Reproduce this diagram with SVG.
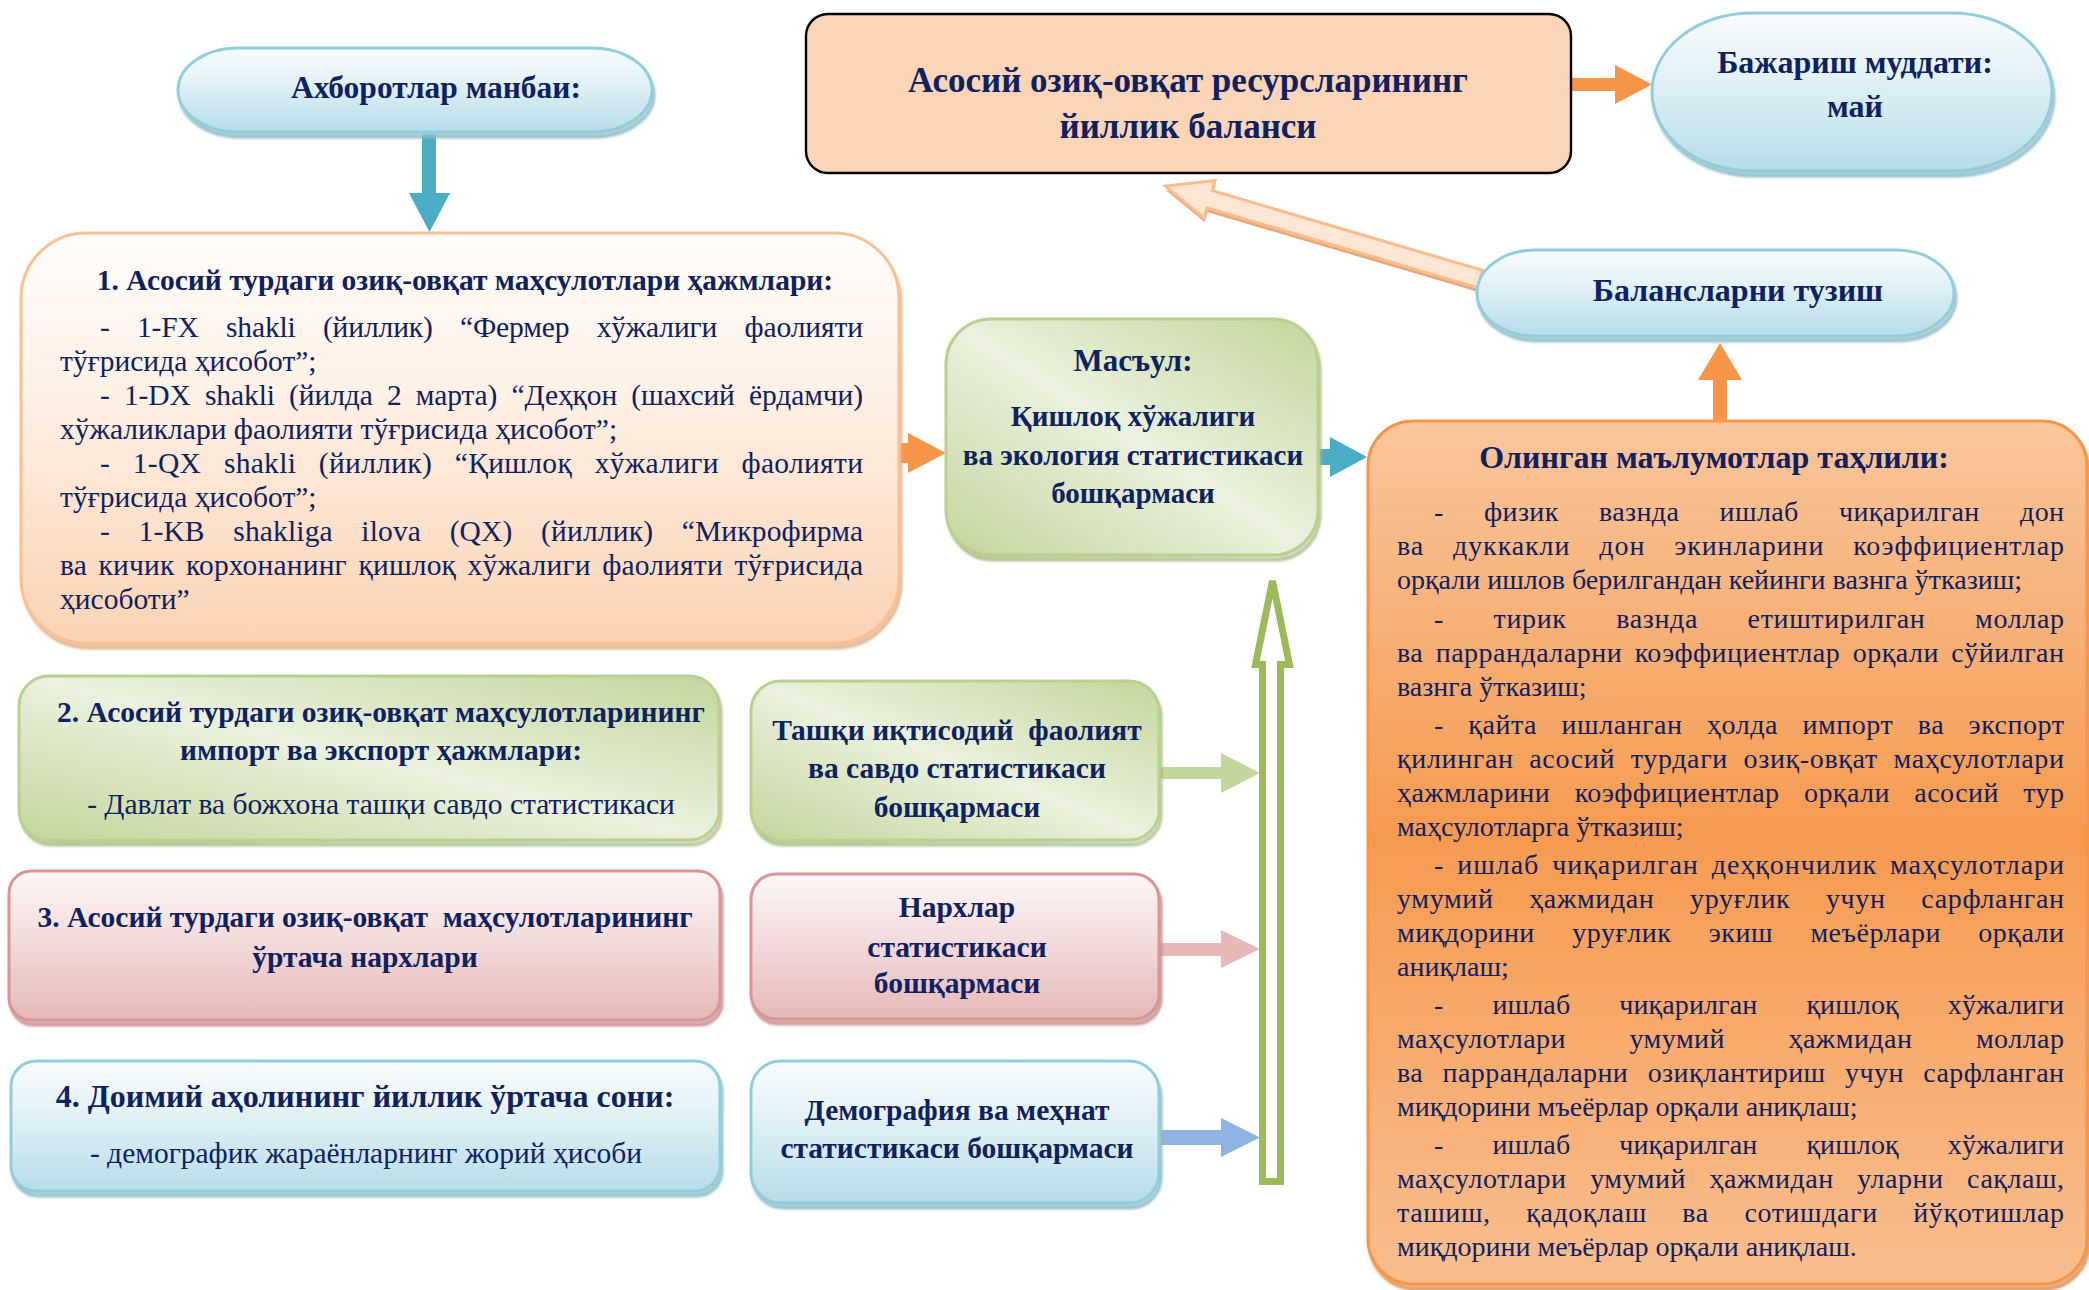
<svg xmlns="http://www.w3.org/2000/svg" width="2089" height="1290" viewBox="0 0 2089 1290">
<defs>
<style>
.t{font-family:"Liberation Serif","Times New Roman",serif;fill:#0f2160}
.b{font-weight:bold}
.c{text-anchor:middle}
.f29{font-size:29.5px}
.f28{font-size:28px}
.f32{font-size:32px}
</style>
<linearGradient id="gBlue" x1="0" y1="0" x2="0" y2="1"><stop offset="0" stop-color="#f8fcfd"/><stop offset="0.35" stop-color="#e6f3f7"/><stop offset="1" stop-color="#b6dde8"/></linearGradient>
<linearGradient id="gPeach" x1="0" y1="0" x2="0" y2="1"><stop offset="0" stop-color="#fffdfb"/><stop offset="0.4" stop-color="#fef0e5"/><stop offset="1" stop-color="#fbd3b3"/></linearGradient>
<linearGradient id="gGreen" x1="0" y1="1" x2="1" y2="0"><stop offset="0" stop-color="#c3d69b"/><stop offset="0.5" stop-color="#ebf1de"/><stop offset="1" stop-color="#c3d69b"/></linearGradient>
<linearGradient id="gPink" x1="0" y1="0" x2="0" y2="1"><stop offset="0" stop-color="#fdf7f7"/><stop offset="0.45" stop-color="#f3dcdc"/><stop offset="1" stop-color="#e6b9b8"/></linearGradient>
<linearGradient id="gOrange" x1="0" y1="0" x2="0" y2="1"><stop offset="0" stop-color="#f9c69d"/><stop offset="0.48" stop-color="#f69a4f"/><stop offset="1" stop-color="#f9be8f"/></linearGradient>
<filter id="sh" x="-5%" y="-5%" width="110%" height="115%">
<feOffset in="SourceGraphic" dx="2" dy="5" result="o"/>
<feColorMatrix in="o" type="matrix" values="0.78 0 0 0 0 0 0.78 0 0 0 0 0 0.78 0 0 0 0 0 0.85 0" result="d"/>
<feGaussianBlur in="d" stdDeviation="1.2" result="bl"/>
<feMerge><feMergeNode in="bl"/><feMergeNode in="SourceGraphic"/></feMerge>
</filter>
</defs>
<rect width="2089" height="1290" fill="#ffffff"/>

<g id="connectors">
<polygon points="422,134 436,134 436,193 450,193 429.5,232 409,193 422,193" fill="#4bacc6"/>
<polygon points="899,443 908,443 908,433 946,453 908,473 908,463 899,463" fill="#f79646"/>
<polygon points="1316,449 1330,449 1330,437 1367,457 1330,477 1330,465 1316,465" fill="#4bacc6"/>
<polygon points="1713,424 1713,380 1698,380 1720,343 1742,380 1727,380 1727,424" fill="#f79646"/>
<polygon points="1569,78 1615,78 1615,65 1652,84.5 1615,104 1615,91 1569,91" fill="#f79646"/>
<polygon points="1158,767 1221,767 1221,753 1260,773 1221,793 1221,779 1158,779" fill="#c3d69b"/>
<polygon points="1158,943 1221,943 1221,930 1260,949 1221,968 1221,956 1158,956" fill="#e6b9b8"/>
<polygon points="1158,1130 1221,1130 1221,1118 1260,1137.5 1221,1157 1221,1145 1158,1145" fill="#8db3e2"/>
<polygon points="1272.5,581 1289.5,664.5 1280.5,664.5 1280.5,1181.5 1262.5,1181.5 1262.5,664.5 1255.5,664.5" fill="#ffffff" stroke="#9bbb59" stroke-width="7" stroke-linejoin="miter"/>
<g transform="translate(1480,279) rotate(196.45)">
<polygon points="0,-9 282,-9 282,-19.5 328,0 282,19.5 282,9 0,9" fill="#e5aa7c" transform="translate(-2,-4)"/>
<polygon points="0,-9 282,-9 282,-19.5 328,0 282,19.5 282,9 0,9" fill="#fde6d4" stroke="#f9bd8b" stroke-width="3"/>
</g>
</g>

<g id="n-source">
<rect x="178" y="48" width="474" height="84" rx="60" ry="42" fill="url(#gBlue)" stroke="#92cddc" stroke-width="3" filter="url(#sh)"/>
<text class="t b c" x="436" y="98" font-size="31.5">Ахборотлар манбаи:</text>
</g>

<g id="n-balance">
<rect x="806" y="14" width="765" height="159" rx="22" fill="#fbd5b5" stroke="#000000" stroke-width="2.4"/>
<text class="t b c" x="1188" y="92" font-size="35">Асосий озиқ-овқат ресурсларининг</text>
<text class="t b c" x="1188" y="138" font-size="35">йиллик баланси</text>
</g>

<g id="n-deadline">
<rect x="1652" y="13" width="400" height="158" rx="100" ry="79" fill="url(#gBlue)" stroke="#92cddc" stroke-width="3" filter="url(#sh)"/>
<text class="t b c f32" x="1855" y="73">Бажариш муддати:</text>
<text class="t b c f32" x="1855" y="117">май</text>
</g>

<g id="n-compose">
<rect x="1477" y="250" width="477" height="86" rx="58" ry="43" fill="url(#gBlue)" stroke="#92cddc" stroke-width="3" filter="url(#sh)"/>
<text class="t b c f32" x="1738" y="301">Балансларни тузиш</text>
</g>

<g id="n-box1">
<rect x="21" y="233" width="878" height="410" rx="65" fill="url(#gPeach)" stroke="#fac090" stroke-width="3" filter="url(#sh)"/>
<text class="t b c f29" x="465" y="290">1. Асосий турдаги озиқ-овқат маҳсулотлари ҳажмлари:</text>
<g class="t f29">
<text x="100" y="337" word-spacing="20" textLength="763" lengthAdjust="spacing">- 1-FX shakli (йиллик) “Фермер хўжалиги фаолияти</text>
<text x="60" y="371">тўғрисида ҳисобот”;</text>
<text x="100" y="405" word-spacing="7" textLength="763" lengthAdjust="spacing">- 1-DX shakli (йилда 2 марта) “Деҳқон (шахсий ёрдамчи)</text>
<text x="60" y="439">хўжаликлари фаолияти тўғрисида ҳисобот”;</text>
<text x="100" y="473" word-spacing="15" textLength="763" lengthAdjust="spacing">- 1-QX shakli (йиллик) “Қишлоқ хўжалиги фаолияти</text>
<text x="60" y="507">тўғрисида ҳисобот”;</text>
<text x="100" y="541" word-spacing="21" textLength="763" lengthAdjust="spacing">- 1-KB shakliga ilova (QX) (йиллик) “Микрофирма</text>
<text x="60" y="575" word-spacing="4" textLength="803" lengthAdjust="spacing">ва кичик корхонанинг қишлоқ хўжалиги фаолияти тўғрисида</text>
<text x="60" y="609">ҳисоботи”</text>
</g>
</g>

<g id="n-resp">
<rect x="946" y="319" width="372" height="236" rx="45" fill="url(#gGreen)" stroke="#b9d18e" stroke-width="3" filter="url(#sh)"/>
<text class="t b c" x="1133" y="371" font-size="31">Масъул:</text>
<text class="t b c" x="1133" y="426" font-size="29">Қишлоқ хўжалиги</text>
<text class="t b c" x="1133" y="465" font-size="29">ва экология статистикаси</text>
<text class="t b c" x="1133" y="503" font-size="29">бошқармаси</text>
</g>

<g id="n-analysis">
<rect x="1368" y="421" width="719" height="863" rx="45" fill="url(#gOrange)" stroke="#f79646" stroke-width="3" filter="url(#sh)"/>
<text class="t b c" x="1714" y="468" font-size="32">Олинган маълумотлар таҳлили:</text>
<g class="t f28">
<text x="1434" y="521" word-spacing="33" textLength="630" lengthAdjust="spacing">- физик вазнда ишлаб чиқарилган дон</text>
<text x="1397" y="555" word-spacing="21" textLength="667" lengthAdjust="spacing">ва дуккакли дон экинларини коэффициентлар</text>
<text x="1397" y="589">орқали ишлов берилгандан кейинги вазнга ўтказиш;</text>
<text x="1434" y="628" word-spacing="42" textLength="630" lengthAdjust="spacing">- тирик вазнда етиштирилган моллар</text>
<text x="1397" y="662" word-spacing="5" textLength="667" lengthAdjust="spacing">ва паррандаларни коэффициентлар орқали сўйилган</text>
<text x="1397" y="696">вазнга ўтказиш;</text>
<text x="1434" y="734" word-spacing="17" textLength="630" lengthAdjust="spacing">- қайта ишланган ҳолда импорт ва экспорт</text>
<text x="1397" y="768" word-spacing="8" textLength="667" lengthAdjust="spacing">қилинган асосий турдаги озиқ-овқат маҳсулотлари</text>
<text x="1397" y="802" word-spacing="17" textLength="667" lengthAdjust="spacing">ҳажмларини коэффициентлар орқали асосий тур</text>
<text x="1397" y="836">маҳсулотларга ўтказиш;</text>
<text x="1434" y="874" word-spacing="5" textLength="630" lengthAdjust="spacing">- ишлаб чиқарилган деҳқончилик маҳсулотлари</text>
<text x="1397" y="908" word-spacing="28" textLength="667" lengthAdjust="spacing">умумий ҳажмидан уруғлик учун сарфланган</text>
<text x="1397" y="942" word-spacing="30" textLength="667" lengthAdjust="spacing">миқдорини уруғлик экиш меъёрлари орқали</text>
<text x="1397" y="976">аниқлаш;</text>
<text x="1434" y="1014" word-spacing="42" textLength="630" lengthAdjust="spacing">- ишлаб чиқарилган қишлоқ хўжалиги</text>
<text x="1397" y="1048" word-spacing="56" textLength="667" lengthAdjust="spacing">маҳсулотлари умумий ҳажмидан моллар</text>
<text x="1397" y="1082" word-spacing="12" textLength="667" lengthAdjust="spacing">ва паррандаларни озиқлантириш учун сарфланган</text>
<text x="1397" y="1116">миқдорини мъеёрлар орқали аниқлаш;</text>
<text x="1434" y="1154" word-spacing="42" textLength="630" lengthAdjust="spacing">- ишлаб чиқарилган қишлоқ хўжалиги</text>
<text x="1397" y="1188" word-spacing="16" textLength="667" lengthAdjust="spacing">маҳсулотлари умумий ҳажмидан уларни сақлаш,</text>
<text x="1397" y="1222" word-spacing="28" textLength="667" lengthAdjust="spacing">ташиш, қадоқлаш ва сотишдаги йўқотишлар</text>
<text x="1397" y="1256">миқдорини меъёрлар орқали аниқлаш.</text>
</g>
</g>

<g id="n-box2">
<rect x="19" y="676" width="700" height="164" rx="30" fill="url(#gGreen)" stroke="#b9d18e" stroke-width="3" filter="url(#sh)"/>
<text class="t b c f29" x="381" y="722">2. Асосий турдаги озиқ-овқат маҳсулотларининг</text>
<text class="t b c f29" x="381" y="760">импорт ва экспорт ҳажмлари:</text>
<text class="t c f29" x="381" y="814">- Давлат ва божхона ташқи савдо статистикаси</text>
</g>

<g id="n-trade">
<rect x="751" y="681" width="408" height="159" rx="30" fill="url(#gGreen)" stroke="#b9d18e" stroke-width="3" filter="url(#sh)"/>
<text class="t b c f29" x="957" y="740" xml:space="preserve">Ташқи иқтисодий  фаолият</text>
<text class="t b c f29" x="957" y="778">ва савдо статистикаси</text>
<text class="t b c f29" x="957" y="817">бошқармаси</text>
</g>

<g id="n-box3">
<rect x="9" y="871" width="711" height="149" rx="22" fill="url(#gPink)" stroke="#d99694" stroke-width="3" filter="url(#sh)"/>
<text class="t b c f29" x="365" y="927" xml:space="preserve">3. Асосий турдаги озиқ-овқат  маҳсулотларининг</text>
<text class="t b c f29" x="365" y="967">ўртача нархлари</text>
</g>

<g id="n-prices">
<rect x="751" y="874" width="408" height="145" rx="25" fill="url(#gPink)" stroke="#d99694" stroke-width="3" filter="url(#sh)"/>
<text class="t b c f29" x="957" y="917">Нархлар</text>
<text class="t b c f29" x="957" y="957">статистикаси</text>
<text class="t b c f29" x="957" y="993">бошқармаси</text>
</g>

<g id="n-box4">
<rect x="11" y="1061" width="709" height="130" rx="25" fill="url(#gBlue)" stroke="#92cddc" stroke-width="3" filter="url(#sh)"/>
<text class="t b c f32" x="365" y="1107">4. Доимий аҳолининг йиллик ўртача сони:</text>
<text class="t c f29" x="366" y="1163">- демографик жараёнларнинг жорий ҳисоби</text>
</g>

<g id="n-demo">
<rect x="751" y="1061" width="408" height="142" rx="30" fill="url(#gBlue)" stroke="#92cddc" stroke-width="3" filter="url(#sh)"/>
<text class="t b c f29" x="957" y="1120">Демография ва меҳнат</text>
<text class="t b c f29" x="957" y="1158">статистикаси бошқармаси</text>
</g>
</svg>
